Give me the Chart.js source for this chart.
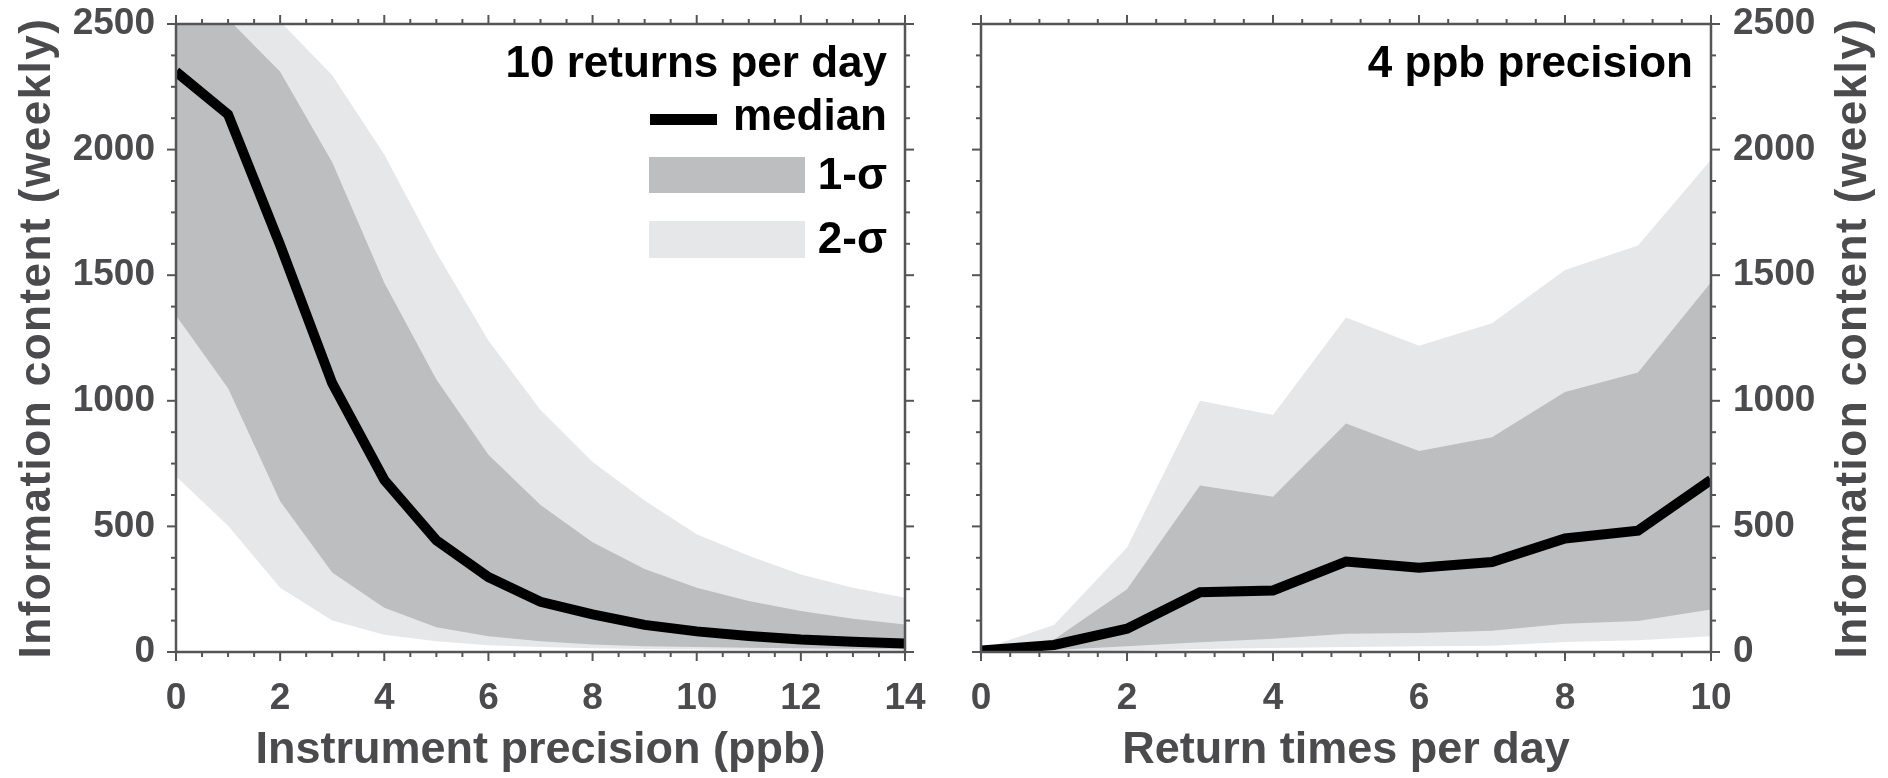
<!DOCTYPE html>
<html>
<head>
<meta charset="utf-8">
<script src="https://cdn.jsdelivr.net/npm/chart.js@4/dist/chart.umd.min.js"></script>
<style>
  html, body { margin: 0; padding: 0; background: #fff; }
  #wrap { position: relative; width: 1888px; height: 778px; }
  .panel { position: absolute; top: 0; width: 944px; height: 778px; }
</style>
</head>
<body>
<div id="wrap">
  <div class="panel" style="left:0"><canvas id="leftChart"></canvas></div>
  <div class="panel" style="left:944px"><canvas id="rightChart"></canvas></div>
</div>
<script>
// left panel: information content vs instrument precision (10 returns per day)
const precision = [0, 1, 2, 3, 4, 5, 6, 7, 8, 9, 10, 11, 12, 13, 14];
const precMedian = [2310, 2140, 1620, 1070, 685, 445, 298, 200, 150, 108, 82, 64, 50, 41, 34];
const prec1Upper = [2800, 2520, 2310, 1950, 1470, 1085, 785, 585, 437, 330, 256, 203, 163, 132, 109];
const prec1Lower = [1340, 1050, 600, 316, 176, 99, 63, 43, 30, 23, 20, 17, 15, 13, 12];
const prec2Upper = [3300, 2900, 2510, 2296, 1980, 1590, 1240, 963, 756, 603, 469, 383, 309, 256, 216];
const prec2Lower = [700, 503, 256, 125, 69, 43, 27, 20, 15, 12, 10, 8, 7, 6, 5];

// right panel: information content vs return times per day (4 ppb precision)
const returns = [0, 1, 2, 3, 4, 5, 6, 7, 8, 9, 10];
const retMedian = [6, 28, 93, 238, 245, 360, 335, 358, 452, 483, 685];
const ret1Upper = [8, 50, 250, 663, 618, 910, 800, 855, 1035, 1113, 1472];
const ret1Lower = [0, 8, 23, 39, 53, 73, 76, 85, 112, 123, 169];
const ret2Upper = [10, 107, 416, 1000, 943, 1332, 1219, 1309, 1521, 1618, 1960];
const ret2Lower = [0, 2, 5, 12, 16, 20, 23, 25, 40, 47, 63];

const precTicks = [0, 2, 4, 6, 8, 10, 12, 14];
const returnTicks = [0, 2, 4, 6, 8, 10];
const infoTicks = [0, 500, 1000, 1500, 2000, 2500];

const FONT = "'Liberation Sans', Arial, Helvetica, sans-serif";
const sig1Color = "#bdbec0";
const sig2Color = "#e6e7e8";
const axisColor = "#555557";
const labelColor = "#4b4b4d";
const yTitle = "Information content (weekly)";

Chart.defaults.font.family = FONT;
Chart.defaults.color = labelColor;

function pts(xs, ys) {
  return xs.map((x, i) => ({ x, y: ys[i] }));
}

function bandSets(xs, med, u1, l1, u2, l2) {
  const edge = { borderWidth: 0, borderColor: "transparent", pointRadius: 0 };
  return [
    { label: "median", data: pts(xs, med), borderColor: "#000", borderWidth: 10,
      pointRadius: 0, fill: false, tension: 0 },
    { label: "1-σ", data: pts(xs, u1), ...edge, backgroundColor: sig1Color, fill: 2 },
    { label: "1-σ low", data: pts(xs, l1), ...edge, fill: false },
    { label: "2-σ", data: pts(xs, u2), ...edge, backgroundColor: sig2Color, fill: 4 },
    { label: "2-σ low", data: pts(xs, l2), ...edge, fill: false }
  ];
}

// box around the plot with outward ticks on all four sides
const frameTicks = {
  id: "frameTicks",
  afterDatasetsDraw(chart, args, o) {
    const { ctx, chartArea: a } = chart;
    const xs = chart.scales.x, ys = chart.scales.y;
    const isMajor = (v, step) => Math.abs(v / step - Math.round(v / step)) < 1e-6;
    const seg = (x1, y1, x2, y2) => {
      ctx.beginPath(); ctx.moveTo(x1, y1); ctx.lineTo(x2, y2); ctx.stroke();
    };
    ctx.save();
    ctx.strokeStyle = axisColor;
    ctx.lineWidth = 2;

    const nx = Math.round((xs.max - xs.min) / o.xMinor);
    for (let i = 0; i <= nx; i++) {
      const v = xs.min + i * o.xMinor;
      const px = xs.getPixelForValue(v);
      const len = isMajor(v, o.xMajor) ? 9 : 5;
      seg(px, a.bottom, px, a.bottom + len);
      seg(px, a.top, px, a.top - len);
    }
    const ny = Math.round((ys.max - ys.min) / o.yMinor);
    for (let i = 0; i <= ny; i++) {
      const v = ys.min + i * o.yMinor;
      const py = ys.getPixelForValue(v);
      const len = isMajor(v, o.yMajor) ? 9 : 5;
      seg(a.left, py, a.left - len, py);
      seg(a.right, py, a.right + len, py);
    }
    ctx.lineWidth = 2.5;
    ctx.strokeRect(a.left, a.top, a.right - a.left, a.bottom - a.top);
    ctx.restore();
  }
};

// panel title, legend and the rotated y title
const notes = {
  id: "notes",
  afterDraw(chart, args, o) {
    const { ctx, chartArea: a } = chart;
    const tx = a.right - 18;
    ctx.save();
    ctx.fillStyle = "#000";
    ctx.font = "bold 44px " + FONT;
    ctx.textAlign = "right";
    ctx.textBaseline = "alphabetic";
    ctx.fillText(o.title, tx, a.top + 53);

    if (o.legend) {
      ctx.fillText("median", tx, a.top + 106);
      ctx.fillText("1-σ", tx, a.top + 165);
      ctx.fillText("2-σ", tx, a.top + 229);
      ctx.fillStyle = "#000";
      ctx.fillRect(a.right - 255, a.top + 90, 67, 11);
      ctx.fillStyle = sig1Color;
      ctx.fillRect(a.right - 256, a.top + 133, 156, 36);
      ctx.fillStyle = sig2Color;
      ctx.fillRect(a.right - 256, a.top + 197, 156, 37);
    }

    ctx.fillStyle = labelColor;
    ctx.font = "bold 44px " + FONT;
    ctx.letterSpacing = "1.5px";
    ctx.textAlign = "center";
    ctx.translate(o.yTitleX, (a.top + a.bottom) / 2);
    ctx.rotate(-Math.PI / 2);
    ctx.fillText(yTitle, 0, 0);
    ctx.restore();
  }
};

function makeChart(id, xs, sets, xTicks, xMax, xTitle, side, noteOpts, xMinor) {
  const left = side === "left";
  return new Chart(document.getElementById(id), {
    type: "line",
    data: { datasets: sets },
    plugins: [frameTicks, notes],
    options: {
      responsive: true,
      maintainAspectRatio: false,
      animation: false,
      events: [],
      layout: { padding: left ? { left: 0, top: 24, right: 39, bottom: 0 }
                             : { left: 37, top: 24, right: 0, bottom: 0 } },
      plugins: {
        legend: { display: false },
        tooltip: { enabled: false },
        frameTicks: { xMinor, xMajor: 2, yMinor: 125, yMajor: 500 },
        notes: noteOpts
      },
      scales: {
        x: {
          type: "linear",
          min: 0,
          max: xMax,
          afterBuildTicks: s => { s.ticks = xTicks.map(v => ({ value: v })); },
          afterFit: s => { s.height = 126; s.paddingLeft = 0; s.paddingRight = 0; },
          grid: { display: false, drawTicks: false },
          border: { display: false },
          ticks: {
            autoSkip: false, maxRotation: 0, padding: 25,
            font: { size: 37, weight: "bold" },
            callback: v => String(v)
          },
          title: {
            display: true, text: xTitle, color: labelColor,
            font: { size: 45, weight: "bold" },
            padding: { top: 0, bottom: 0 }
          }
        },
        y: {
          position: side,
          min: 0,
          max: 2500,
          afterBuildTicks: s => { s.ticks = infoTicks.map(v => ({ value: v })); },
          afterFit: s => {
            s.width = left ? 176 : 177;
            s.paddingTop = 0;
            s.paddingBottom = 0;
          },
          grid: { display: false, drawTicks: false },
          border: { display: false },
          ticks: {
            padding: left ? 21 : 22,
            font: { size: 37, weight: "bold" },
            callback: v => String(v)
          }
        }
      }
    }
  });
}

makeChart("leftChart", precision,
  bandSets(precision, precMedian, prec1Upper, prec1Lower, prec2Upper, prec2Lower),
  precTicks, 14, "Instrument precision (ppb)", "left",
  { title: "10 returns per day", legend: true, yTitleX: 50 }, 0.5);

makeChart("rightChart", returns,
  bandSets(returns, retMedian, ret1Upper, ret1Lower, ret2Upper, ret2Lower),
  returnTicks, 10, "Return times per day", "right",
  { title: "4 ppb precision", legend: false, yTitleX: 922 }, 0.4);
</script>
</body>
</html>
